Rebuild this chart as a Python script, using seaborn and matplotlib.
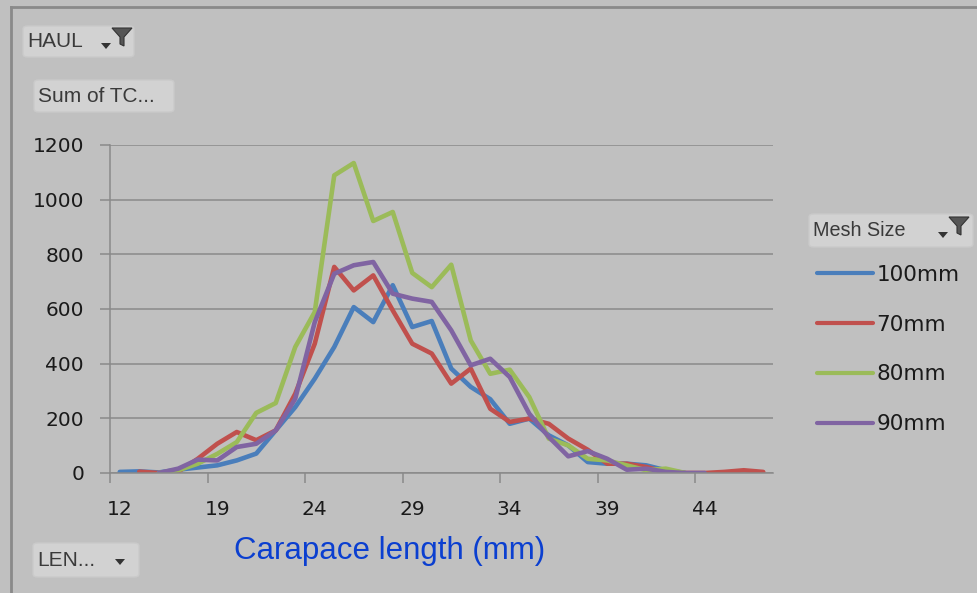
import numpy as np
import pandas as pd
import seaborn as sns
import matplotlib.pyplot as plt
from matplotlib.patches import FancyBboxPatch, Polygon

# carapace length categories (some small lengths are absent from the pivot)
lengths = [12, 15, 16, 17, 18] + list(range(19, 48))

mesh_sizes = ['100mm', '70mm', '80mm', '90mm']
colors = ['#4a7ebb', '#c0504d', '#9bbb59', '#8064a2']

N = None
tc_100 = [4, 6, 2, 12, 20, 28, 46, 71, 156, 241, 345, 461, 607, 552, 687, 534, 556,
          382, 315, 270, 180, 199, 138, 101, 40, 34, 34, 28, 10, 0, N, N, N, N]
tc_70 = [N, 5, 0, 5, 52, 107, 150, 120, 156, 290, 473, 754, 668, 723, 595, 473, 437,
         327, 382, 235, 187, 199, 180, 126, 85, 34, 34, 22, 4, 0, 0, 4, 10, 4]
tc_80 = [N, N, 0, 10, 34, 70, 113, 220, 256, 461, 589, 1089, 1134, 922, 955, 732, 680,
         762, 485, 363, 378, 278, 126, 101, 52, 46, 28, 10, 16, 0, N, N, N, N]
tc_90 = [N, N, 0, 16, 49, 46, 95, 107, 156, 272, 552, 729, 760, 772, 656, 638, 626,
         522, 394, 418, 351, 217, 132, 61, 80, 52, 12, 16, 4, 0, 0, N, N, N]

xtick_labels = ['12', '19', '24', '29', '34', '39', '44']

rows = []
for mesh, vals in zip(mesh_sizes, [tc_100, tc_70, tc_80, tc_90]):
    for i, (ln, v) in enumerate(zip(lengths, vals)):
        if v is not None:
            rows.append({'pos': i, 'length': ln, 'total': v, 'mesh': mesh})
df = pd.DataFrame(rows)

BG = '#c0c0c0'
W, H = 977, 593


def px(x, y):
    return x / W, 1 - y / H


fig = plt.figure(figsize=(W / 100, H / 100), dpi=100, facecolor=BG)
ax = fig.add_axes([110 / W, 1 - 473 / H, (773 - 110) / W, (473 - 145) / H])
ax.set_facecolor(BG)

sns.lineplot(data=df, x='pos', y='total', hue='mesh', hue_order=mesh_sizes,
             palette=colors, lw=3.3, ax=ax, sort=True, estimator=None,
             solid_joinstyle='round', solid_capstyle='round')

handles, labels = ax.get_legend_handles_labels()
ax.get_legend().remove()

ax.set_xlim(-0.5, len(lengths) - 0.5)
ax.set_ylim(0, 1200)
ax.set_yticks(range(0, 1201, 200))
label_pos = [lengths.index(int(t)) for t in xtick_labels]
ax.set_xticks(label_pos)
ax.set_xticklabels(xtick_labels)
ax.set_xticks([p - 0.5 for p in label_pos], minor=True)
ax.tick_params(axis='x', which='major', length=0, pad=19.5, labelsize=14.5,
               labelcolor='#1a1a1a')
ax.tick_params(axis='x', which='minor', length=7.2, width=1.1, color='#8a8a8a')
ax.tick_params(axis='y', length=7.2, width=1.1, color='#8a8a8a', pad=11.5,
               labelsize=14.5, labelcolor='#1a1a1a')
ax.set_xlabel('')
ax.set_ylabel('')
ax.yaxis.grid(True, color='#8a8a8a', lw=1.1)
ax.set_axisbelow(True)
for s in ['top', 'right']:
    ax.spines[s].set_visible(False)
for s in ['left', 'bottom']:
    ax.spines[s].set_color('#8a8a8a')
    ax.spines[s].set_linewidth(1.1)

# legend
for h in handles:
    h.set_linewidth(3)
fig.legend(handles, labels, loc='upper left', bbox_to_anchor=px(817, 265),
           frameon=False, fontsize=15.5, handlelength=2.6, handletextpad=0.15,
           labelspacing=1.38, borderpad=0, borderaxespad=0, labelcolor='#1a1a1a')

# chart border (left and top)
fig.add_artist(plt.Line2D([10.5 / W, 10.5 / W], [0, 1 - 7 / H], transform=fig.transFigure,
                          color='#8a8a8a', lw=2))
fig.add_artist(plt.Line2D([10.5 / W, 1], [1 - 7 / H, 1 - 7 / H], transform=fig.transFigure,
                          color='#8a8a8a', lw=2))


def button(x0, y0, x1, y1, text, size=14.5):
    bx, by = px(x0, y1)
    bw, bh = (x1 - x0) / W, (y1 - y0) / H
    fig.add_artist(FancyBboxPatch((bx, by), bw, bh, boxstyle='round,pad=0,rounding_size=0.005',
                                  transform=fig.transFigure, facecolor='#d2d2d2',
                                  edgecolor='#cacaca', lw=1))
    fig.text(*px(x0 + 4, (y0 + y1) / 2), text, fontsize=size, family='Liberation Sans',
             color='#3a3a3a', va='center', ha='left')


def arrow(cx, cy):
    pts = [px(cx - 5, cy - 2), px(cx + 5, cy - 2), px(cx, cy + 4)]
    fig.add_artist(Polygon(pts, closed=True, transform=fig.transFigure,
                           facecolor='#333333', edgecolor='none'))


def funnel(x0, y0):
    pts = [px(x0, y0), px(x0 + 20, y0), px(x0 + 12, y0 + 9), px(x0 + 12, y0 + 18),
           px(x0 + 8, y0 + 16), px(x0 + 8, y0 + 9)]
    fig.add_artist(Polygon(pts, closed=True, transform=fig.transFigure,
                           facecolor='#555555', edgecolor='#333333', lw=0.8))


button(23, 26, 134, 57, 'HAUL', 15)
arrow(106, 45)
funnel(112, 28)
button(34, 80, 174, 112, 'Sum of TC...', 15)
button(809, 214, 973, 247, 'Mesh Size', 14.2)
arrow(943, 234)
funnel(949, 217)
button(33, 543, 139, 577, 'LEN...', 15)
arrow(120, 561)

fig.text(*px(390, 551), 'Carapace length (mm)', fontsize=22.5, family='Liberation Sans',
         color='#0b3fd0', ha='center', va='center')

fig.savefig('out.png', dpi=100, facecolor=BG)
